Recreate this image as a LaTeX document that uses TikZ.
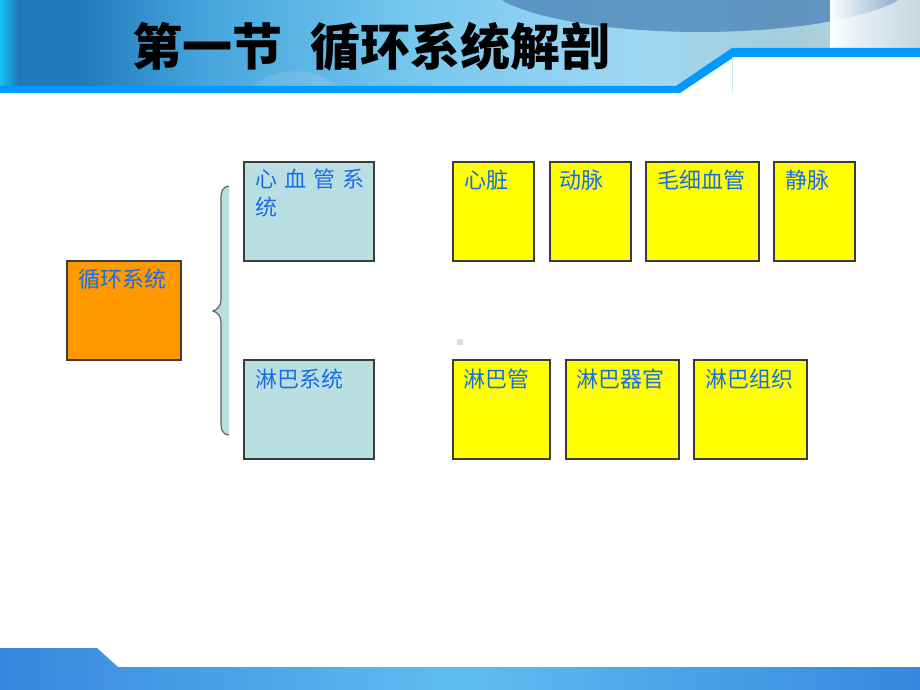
\documentclass[tikz,border=0pt]{standalone}
\usepackage{fontspec}
\newfontfamily\cjk{Noto Sans CJK SC}
\usetikzlibrary{fadings}
\definecolor{txtblue}{RGB}{25,110,230}
\definecolor{boxline}{RGB}{60,60,60}
\definecolor{orangebox}{RGB}{255,153,0}
\definecolor{yellowbox}{RGB}{255,255,0}
\definecolor{bluebox}{RGB}{185,223,227}
\definecolor{stripe}{RGB}{0,153,255}
\definecolor{hA}{RGB}{16,196,245}
\definecolor{hB}{RGB}{30,120,185}
\definecolor{hC}{RGB}{70,165,220}
\definecolor{hD}{RGB}{120,200,238}
\definecolor{hE}{RGB}{160,216,242}
\definecolor{hF}{RGB}{165,205,220}
\definecolor{hG}{RGB}{200,215,222}
\definecolor{steel}{RGB}{80,135,185}
\definecolor{fA}{RGB}{55,135,222}
\definecolor{fB}{RGB}{95,190,240}
\pgfdeclarehorizontalshading{hdrshade}{100bp}{color(0bp)=(hA); color(25bp)=(hA); color(26bp)=(hB); color(29bp)=(hB); color(36bp)=(hC); color(48bp)=(hD); color(60bp)=(hE); color(68bp)=(hF); color(75bp)=(hG); color(100bp)=(hG)}
\pgfdeclarehorizontalshading{ftrshade}{100bp}{color(0bp)=(fA); color(25bp)=(fA); color(50bp)=(fB); color(75bp)=(fA); color(100bp)=(fA)}
\tikzset{
  box/.style={draw=boxline, line width=1.3pt, anchor=north west, inner sep=0pt, outer sep=0pt},
  lbl/.style={anchor=base west, inner sep=0pt, text=txtblue, font=\cjk\fontsize{22}{26}\selectfont},
}
\begin{document}
\begin{tikzpicture}[x=1pt,y=-1pt]
\useasboundingbox (0,0) rectangle (920,690);
% header
\begin{scope}
\clip (0,0) -- (920,0) -- (920,50) -- (732,50) -- (676,88) -- (0,88) -- cycle;
\shade[shading=hdrshade] (0,0) rectangle (920,90);
\fill[steel, opacity=0.8] (700,-20) ellipse [x radius=215, y radius=52];
\fill[white, path fading=east] (830,0) rectangle (920,50);
\fill[white, opacity=0.12] (250,90) .. controls (270,65) and (320,65) .. (340,90) -- cycle;
\end{scope}
\fill[stripe] (0,86) -- (676,86) -- (732,48) -- (920,48) -- (920,57) -- (734,57) -- (680,93) -- (0,93) -- cycle;
\draw[bluebox!70, line width=0.6pt] (732,57) -- (732,93);
\node[anchor=base west, inner sep=0pt, font=\cjk\bfseries\fontsize{50}{56}\selectfont] (title) at (132,66) {第一节\hspace{28pt}循环系统解剖};
% footer
\shade[shading=ftrshade] (0,648) -- (97,648) -- (118,667) -- (920,667) -- (920,690) -- (0,690) -- cycle;
% brace
\fill[bluebox] (229,186) .. controls (222,187) and (221,192) .. (221,198) -- (221,300) .. controls (221,306) and (217,310) .. (213,311) .. controls (217,312) and (221,316) .. (221,322) -- (221,423) .. controls (221,430) and (222,434) .. (229,435) -- cycle;
\draw[boxline!80, line width=1.2pt] (229,186) .. controls (222,187) and (221,192) .. (221,198) -- (221,300) .. controls (221,306) and (217,310) .. (213,311) .. controls (217,312) and (221,316) .. (221,322) -- (221,423) .. controls (221,430) and (222,434) .. (229,435);
% boxes
\node[box, fill=orangebox, minimum width=114pt, minimum height=99pt] (xh) at (67,261) {};
\node[lbl] (xhL) at (78,287) {循环系统};
\node[box, fill=bluebox, minimum width=130pt, minimum height=99pt] (xxg) at (244,162) {};
\node[lbl, align=left] (xxgL) at (255,187) {心\hspace{7pt}血\hspace{7pt}管\hspace{7pt}系};
\node[lbl] (xxgL2) at (255,215) {统};
\node[box, fill=bluebox, minimum width=130pt, minimum height=99pt] (lb) at (244,360) {};
\node[lbl] (lbL) at (255,387) {淋巴系统};
\node[box, fill=yellowbox, minimum width=81pt, minimum height=99pt] (xz) at (453,162) {};
\node[lbl] (xzL) at (464,188) {心脏};
\node[box, fill=yellowbox, minimum width=81pt, minimum height=99pt] (dm) at (550,162) {};
\node[lbl] (dmL) at (559,188) {动脉};
\node[box, fill=yellowbox, minimum width=113pt, minimum height=99pt] (mx) at (646,162) {};
\node[lbl] (mxL) at (657,188) {毛细血管};
\node[box, fill=yellowbox, minimum width=81pt, minimum height=99pt] (jm) at (774,162) {};
\node[lbl] (jmL) at (785,188) {静脉};
\node[box, fill=yellowbox, minimum width=97pt, minimum height=99pt] (lbg) at (453,360) {};
\node[lbl] (lbgL) at (463,387) {淋巴管};
\node[box, fill=yellowbox, minimum width=113pt, minimum height=99pt] (lbq) at (566,360) {};
\node[lbl] (lbqL) at (576,387) {淋巴器官};
\node[box, fill=yellowbox, minimum width=113pt, minimum height=99pt] (lbz) at (694,360) {};
\node[lbl] (lbzL) at (705,387) {淋巴组织};
\node[fill=black!13, minimum size=6pt, inner sep=0pt] (dot) at (460,342) {};
\end{tikzpicture}
\end{document}
